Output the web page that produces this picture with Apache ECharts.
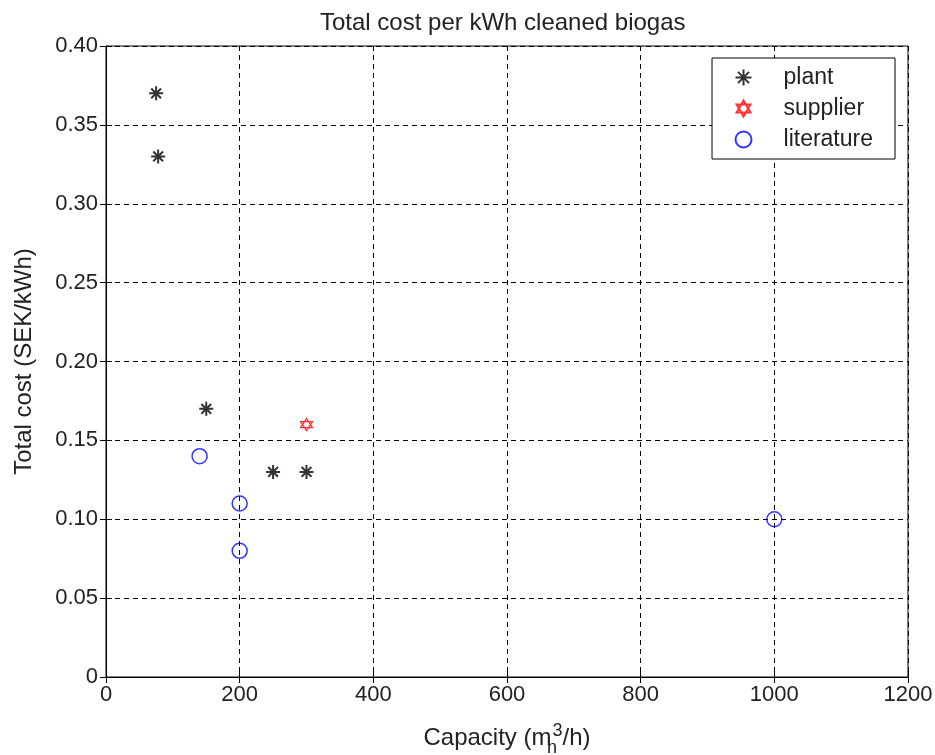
<!DOCTYPE html>
<html>
<head>
  <meta charset="utf-8" />
  <title>Total cost per kWh cleaned biogas</title>
  <script src="https://cdn.jsdelivr.net/npm/echarts@6/dist/echarts.min.js"></script>
  <style>
    html, body { margin: 0; padding: 0; background: #fff; }
  </style>
</head>
<body>
  <div id="main" style="width: 935px;height:755px;"></div>
  <script type="text/javascript">
    // data: [capacity m3/h, cost SEK/kWh]
    var plant = [[75, 0.37], [78, 0.33], [150, 0.17], [250, 0.13], [300, 0.13]];
    var supplier = [[300, 0.16]];
    var literature = [[140, 0.14], [200, 0.11], [200, 0.08], [1000, 0.10]];

    var xTicks = [0, 200, 400, 600, 800, 1000, 1200];
    var yTicks = [0, 0.05, 0.10, 0.15, 0.20, 0.25, 0.30, 0.35, 0.40];

    // matlab style markers
    var starPath = 'path://M0,-10L0,10M-10,0L10,0M-7,-7L7,7M-7,7L7,-7';
    var hexPath = 'path://M0,-10L8.66,5L-8.66,5ZM0,10L8.66,-5L-8.66,-5Z';

    var font = 'Liberation Sans, Arial, sans-serif';
    var txt = '#222';
    var myChart = echarts.init(document.getElementById('main'));

    var gridLine = { show: true, lineStyle: { color: '#000', type: [5, 4], width: 1 } };
    var tickIn = { show: true, inside: true, length: 6, lineStyle: { color: '#000' } };

    var option = {
      animation: false,
      backgroundColor: '#fff',
      title: {
        text: 'Total cost per kWh cleaned biogas',
        left: 315,
        top: 6,
        textStyle: { fontFamily: font, fontSize: 24, fontWeight: 'normal', color: txt }
      },
      legend: {
        orient: 'vertical',
        right: 40,
        top: 58,
        padding: [8, 22, 8, 21],
        itemGap: 8,
        itemWidth: 22,
        itemHeight: 16,
        backgroundColor: '#fff',
        borderColor: '#000',
        borderWidth: 1,
        borderRadius: 0,
        textStyle: { fontFamily: font, fontSize: 23, color: txt, padding: [0, 0, 0, 24] },
        data: ['plant', 'supplier', 'literature']
      },
      grid: {
        left: 106, right: 27, top: 46, bottom: 78,
        outerBoundsMode: 'none',
        containLabel: false,
        show: true, borderColor: '#000', borderWidth: 1
      },
      xAxis: [{
        type: 'value',
        min: 0, max: 1200, interval: 200,
        name: '{a|Capacity (m}{sub|n}{sup|3}{a|/h)}',
        nameLocation: 'middle',
        nameGap: 42,
        nameTextStyle: {
          rich: {
            a: { fontFamily: font, fontSize: 24, color: txt },
            sub: { fontFamily: font, fontSize: 18, color: txt, padding: [20, 0, 0, 0], width: 1 },
            sup: { fontFamily: font, fontSize: 18, color: txt, padding: [0, 0, 14, 0] }
          }
        },
        axisLine: { show: true, lineStyle: { color: '#000' } },
        axisTick: tickIn,
        splitLine: gridLine,
        axisLabel: {
          fontFamily: font, fontSize: 22, color: txt, margin: 7,
          formatter: function (v) { return xTicks.indexOf(v) >= 0 ? String(v) : ''; }
        }
      }, {
        type: 'value', position: 'top',
        min: 0, max: 1200, interval: 200,
        axisLine: { show: true, lineStyle: { color: '#000' } },
        axisTick: tickIn, axisLabel: { show: false }, splitLine: { show: false }
      }],
      yAxis: [{
        type: 'value',
        min: 0, max: 0.4, interval: 0.05,
        name: 'Total cost (SEK/kWh)',
        nameLocation: 'middle',
        nameGap: 70,
        nameTextStyle: { fontFamily: font, fontSize: 24, color: txt },
        axisLine: { show: true, lineStyle: { color: '#000' } },
        axisTick: tickIn,
        splitLine: gridLine,
        axisLabel: {
          fontFamily: font, fontSize: 22, color: txt, margin: 8,
          formatter: function (v) {
            return yTicks.indexOf(+v.toFixed(2)) < 0 ? '' : (v === 0 ? '0' : v.toFixed(2));
          }
        }
      }, {
        type: 'value', position: 'right',
        min: 0, max: 0.4, interval: 0.05,
        axisLine: { show: true, lineStyle: { color: '#000' } },
        axisTick: tickIn, axisLabel: { show: false }, splitLine: { show: false }
      }],
      series: [
        {
          name: 'plant', type: 'scatter', data: plant,
          symbol: starPath, symbolSize: 14,
          itemStyle: { color: 'none', borderColor: '#000', borderWidth: 2 }
        },
        {
          name: 'supplier', type: 'scatter', data: supplier,
          symbol: hexPath, symbolSize: 12,
          itemStyle: { color: 'none', borderColor: '#f00', borderWidth: 1.3 }
        },
        {
          name: 'literature', type: 'scatter', data: literature,
          symbol: 'circle', symbolSize: 15,
          itemStyle: { color: 'none', borderColor: '#00f', borderWidth: 1.5 }
        }
      ]
    };
    option && myChart.setOption(option);
  </script>
</body>
</html>
